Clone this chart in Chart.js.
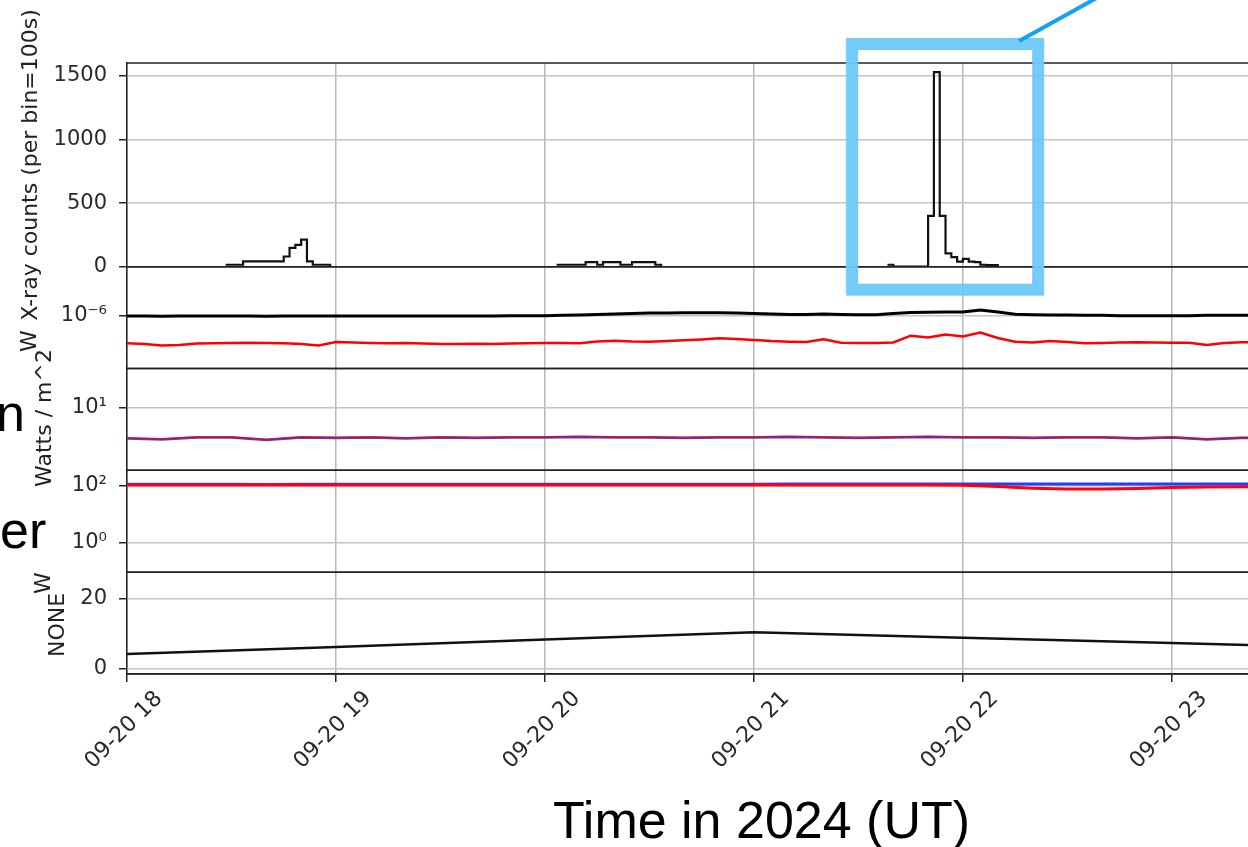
<!DOCTYPE html>
<html>
<head>
<meta charset="utf-8">
<script src="https://cdn.jsdelivr.net/npm/chart.js@4.4.1/dist/chart.umd.min.js"></script>
<style>
  html, body { margin: 0; padding: 0; background: #fff; overflow: hidden; }
  #wrap { position: relative; width: 1248px; height: 847px; }
  .ylab { position: absolute; font-family: 'DejaVu Sans', sans-serif; font-size: 22px; color: #222;
          white-space: nowrap; line-height: 1; transform: translate(-50%, -50%) rotate(-90deg); }
  .slide { position: absolute; font-family: 'Liberation Sans', Arial, sans-serif; font-size: 52px;
           color: #000; line-height: 52px; white-space: nowrap; }
</style>
</head>
<body>
<div id="wrap">
  <canvas id="timeChart" width="1248" height="847"></canvas>
  <div class="ylab" style="left:30px; top:165px;">X-ray counts (per bin=100s)</div>
  <div class="ylab" style="left:29px; top:341px;">W</div>
  <div class="ylab" style="left:44px; top:418px;">Watts / m^2</div>
  <div class="ylab" style="left:43px; top:583px;">W</div>
  <div class="ylab" style="left:57px; top:625px;">NONE</div>
  <div class="slide" style="left:-4px; top:387px;">n</div>
  <div class="slide" style="left:0px; top:504px;">er</div>
  <div class="slide" style="left:553px; top:794px;">Time in 2024 (UT)</div>
</div>
<script>
// time axis (hours UT on 2024-09-20)
const xStart = 18, xEnd = 23.364;
const hourTicks = [18, 19, 20, 21, 22, 23];
const hourLabels = ['09-20 18', '09-20 19', '09-20 20', '09-20 21', '09-20 22', '09-20 23'];

// panel 1: X-ray counts, 100 s bins counted from 18:00
const binSize = 100 / 3600;
const xrayBlockStart = [17, 74, 131];
const xrayCounts1 = [15, 15, 15, 42, 42, 42, 42, 42, 42, 42, 80, 148, 172, 212, 42, 15, 15, 15];
const xrayCounts2 = [15, 15, 15, 15, 15, 35, 35, 15, 35, 35, 35, 15, 15, 35, 35, 35, 35, 15];
const xrayCounts3 = [15, 0, 0, 0, 0, 0, 0, 400, 1530, 400, 105, 75, 39, 62, 39, 35, 15, 12, 12];
const countTicks = [0, 500, 1000, 1500];

// panel 2: GOES flux, 5 min cadence
const goesStep = 1 / 12;
const goesLong = [1.00, 1.00, 0.99, 1.00, 1.00, 1.00, 1.00, 1.00, 0.99, 1.00,
  1.00, 1.00, 1.00, 1.00, 1.00, 1.00, 1.00, 1.00, 1.00, 1.00,
  1.00, 1.00, 1.01, 1.01, 1.01, 1.02, 1.03, 1.05, 1.07, 1.085,
  1.10, 1.10, 1.11, 1.115, 1.115, 1.10, 1.085, 1.07, 1.05, 1.05,
  1.07, 1.05, 1.04, 1.04, 1.085, 1.12, 1.13, 1.14, 1.14, 1.22,
  1.14, 1.06, 1.04, 1.03, 1.03, 1.02, 1.02, 1.01, 1.01, 1.01,
  1.01, 1.01, 1.02, 1.02, 1.02, 1.02]; // x 1e-6
const goesShort = [4.07, 3.98, 3.79, 3.85, 4.05, 4.07, 4.11, 4.15, 4.11, 4.07,
  3.98, 3.79, 4.25, 4.18, 4.11, 4.07, 4.11, 4.05, 3.98, 3.98,
  4.02, 3.98, 4.05, 4.07, 4.11, 4.11, 4.07, 4.32, 4.44, 4.32,
  4.30, 4.39, 4.50, 4.62, 4.80, 4.69, 4.54, 4.39, 4.30, 4.25,
  4.65, 4.15, 4.11, 4.11, 4.18, 5.23, 4.93, 5.44, 5.09, 5.81,
  4.85, 4.30, 4.18, 4.39, 4.25, 4.07, 4.11, 4.18, 4.21, 4.18,
  4.15, 4.15, 3.85, 4.11, 4.21, 4.21]; // x 1e-7
const fluxTicks = [1e-6];

// panels 3 and 4: 10 min cadence
const irrStep = 1 / 6;
const irr1Red = [3.30, 3.18, 3.42, 3.42, 3.12, 3.42, 3.36, 3.42, 3.30, 3.42,
  3.36, 3.42, 3.42, 3.49, 3.42, 3.42, 3.36, 3.42, 3.42, 3.49,
  3.42, 3.36, 3.42, 3.49, 3.42, 3.42, 3.36, 3.42, 3.42, 3.30,
  3.42, 3.18, 3.36, 3.42];
const irr1Blue = [3.24, 3.12, 3.36, 3.36, 3.06, 3.36, 3.30, 3.36, 3.24, 3.36,
  3.30, 3.36, 3.36, 3.42, 3.36, 3.36, 3.30, 3.36, 3.36, 3.42,
  3.36, 3.30, 3.36, 3.42, 3.36, 3.36, 3.30, 3.36, 3.36, 3.24,
  3.36, 3.12, 3.30, 3.36];
const irr1Ticks = [10];
const irr2Red = [108, 108, 108, 108, 108, 108, 108, 108, 108, 108,
  108, 108, 108, 108, 108, 108, 108, 108, 108, 108,
  108, 108, 108, 108, 106, 96, 84, 78, 78, 82,
  88, 92, 94, 95];
const irr2Blue = [115, 115, 115, 115, 114, 115, 115, 115, 115, 115,
  115, 115, 116, 115, 115, 116, 116, 116, 116, 117,
  117, 117, 117, 118, 118, 118, 118, 119, 119, 119,
  119, 119, 119, 119];
const irr2Ticks = [1, 100];

// panel 5: hourly values
const noneHours = [18, 19, 20, 21, 22, 23, 24];
const noneValues = [4.3, 6.3, 8.4, 10.5, 8.9, 7.4, 5.9];
const noneTicks = [0, 20];

const highlightHours = [21.47, 22.36];

const supMap = {'-': '\u207b', '0': '\u2070', '1': '\u00b9', '2': '\u00b2', '3': '\u00b3',
  '4': '\u2074', '5': '\u2075', '6': '\u2076', '7': '\u2077', '8': '\u2078', '9': '\u2079'};
function powLabel(v) {
  const e = String(Math.round(Math.log10(v)));
  return '10' + e.split('').map(c => supMap[c]).join('');
}

function histPoints() {
  const pts = [];
  [xrayCounts1, xrayCounts2, xrayCounts3].forEach((counts, b) => {
    const s = xrayBlockStart[b];
    counts.forEach((c, k) => pts.push({x: xStart + (s + k) * binSize, y: c}));
    const end = xStart + (s + counts.length) * binSize;
    pts.push({x: end, y: 0});
    pts.push({x: end + binSize / 2, y: null});
  });
  return pts;
}
const series = (vals, step, scale) => vals.map((v, i) => ({x: xStart + i * step, y: v * scale}));

const tickFont = {family: 'DejaVu Sans', size: 21};
function yAxis(type, min, max, weight, tickVals, fmt) {
  return {
    type: type, position: 'left', stack: 'panels', stackWeight: weight,
    min: min, max: max,
    border: {display: true, color: '#222', width: 1.5},
    grid: {color: '#c4c4c4', lineWidth: 1.5, tickLength: 8, tickColor: '#222', tickWidth: 1.5},
    ticks: {font: tickFont, color: '#2a2a2a', padding: 12, callback: fmt},
    afterBuildTicks: s => { s.ticks = tickVals.map(v => ({value: v})); },
    afterFit: s => { s.width = 127; s.paddingTop = 0; s.paddingBottom = 0; }
  };
}

const panelIds = ['yCounts', 'yFlux', 'yIrr1', 'yIrr2', 'yNone'];
const sketchPlugin = {
  id: 'sketch',
  afterDatasetsDraw(chart) {
    const {ctx, chartArea, scales} = chart;
    ctx.save();
    ctx.strokeStyle = '#222';
    ctx.lineWidth = 1.5;
    panelIds.forEach(id => {
      [scales[id].top, scales[id].bottom].forEach(y => {
        ctx.beginPath();
        ctx.moveTo(chartArea.left, y);
        ctx.lineTo(chartArea.right, y);
        ctx.stroke();
      });
    });
    ctx.restore();
  },
  afterDraw(chart) {
    const {ctx, chartArea, scales} = chart;
    const x1 = scales.x.getPixelForValue(highlightHours[0]);
    const x2 = scales.x.getPixelForValue(highlightHours[1]);
    const y1 = chartArea.top - 19;
    const y2 = scales.yCounts.bottom + 23;
    ctx.save();
    ctx.strokeStyle = 'rgba(102,196,248,0.9)';
    ctx.lineWidth = 12;
    ctx.strokeRect(x1, y1, x2 - x1, y2 - y1);
    // second pass, slightly shifted, for a marker-pen look
    ctx.strokeStyle = 'rgba(120,205,250,0.55)';
    ctx.lineWidth = 9;
    ctx.strokeRect(x1 - 2, y1 + 1, x2 - x1 + 3, y2 - y1 - 2);
    ctx.strokeStyle = '#10a3f0';
    ctx.lineWidth = 4;
    ctx.beginPath();
    ctx.moveTo(x2 - 19, y1 - 3);
    ctx.lineTo(x2 + 71, y1 - 53);
    ctx.stroke();
    ctx.restore();
  }
};

new Chart(document.getElementById('timeChart'), {
  type: 'line',
  data: {
    datasets: [
      {data: histPoints(), yAxisID: 'yCounts', borderColor: '#111', borderWidth: 2.2, stepped: true, spanGaps: false},
      {data: series(goesLong, goesStep, 1e-6), yAxisID: 'yFlux', borderColor: '#000', borderWidth: 3},
      {data: series(goesShort, goesStep, 1e-7), yAxisID: 'yFlux', borderColor: '#ff0000', borderWidth: 2.5},
      {data: series(irr1Red, irrStep, 1), yAxisID: 'yIrr1', borderColor: 'rgba(225,0,30,0.75)', borderWidth: 2},
      {data: series(irr1Blue, irrStep, 1), yAxisID: 'yIrr1', borderColor: '#3050f0', borderWidth: 2.5},
      {data: series(irr2Red, irrStep, 1), yAxisID: 'yIrr2', borderColor: '#ff0010', borderWidth: 3},
      {data: series(irr2Blue, irrStep, 1), yAxisID: 'yIrr2', borderColor: '#2040ff', borderWidth: 3},
      {data: noneHours.map((h, i) => ({x: h, y: noneValues[i]})), yAxisID: 'yNone', borderColor: '#111', borderWidth: 2.5}
    ]
  },
  options: {
    responsive: false,
    animation: false,
    elements: {point: {radius: 0}, line: {tension: 0}},
    layout: {autoPadding: false, padding: {top: 63, left: 0, right: 0, bottom: 0}},
    plugins: {legend: {display: false}, tooltip: {enabled: false}},
    scales: {
      x: {
        type: 'linear', position: 'bottom', min: xStart, max: xEnd,
        border: {display: true, color: '#222', width: 1.5},
        grid: {color: '#b8b8b8', lineWidth: 1.5, tickLength: 8, tickColor: '#222', tickWidth: 1.5},
        ticks: {font: {family: 'DejaVu Sans', size: 22}, color: '#2a2a2a', minRotation: 45, maxRotation: 45,
                autoSkip: false, padding: 4, labelOffset: 32,
                callback: v => hourLabels[hourTicks.indexOf(v)]},
        afterBuildTicks: s => { s.ticks = hourTicks.map(v => ({value: v})); },
        afterFit: s => { s.height = 173; s.paddingLeft = 0; s.paddingRight = 0; }
      },
      yNone: yAxis('linear', -1.43, 27.66, 1, noneTicks, v => String(v)),
      yIrr2: yAxis('logarithmic', 0.0945, 356, 1, irr2Ticks, powLabel),
      yIrr1: yAxis('logarithmic', 1, 43, 1, irr1Ticks, powLabel),
      yFlux: yAxis('logarithmic', 1.778e-7, 5.06e-6, 1, fluxTicks, powLabel),
      yCounts: yAxis('linear', 0, 1602, 2, countTicks, v => String(v))
    }
  },
  plugins: [sketchPlugin]
});
</script>
</body>
</html>
